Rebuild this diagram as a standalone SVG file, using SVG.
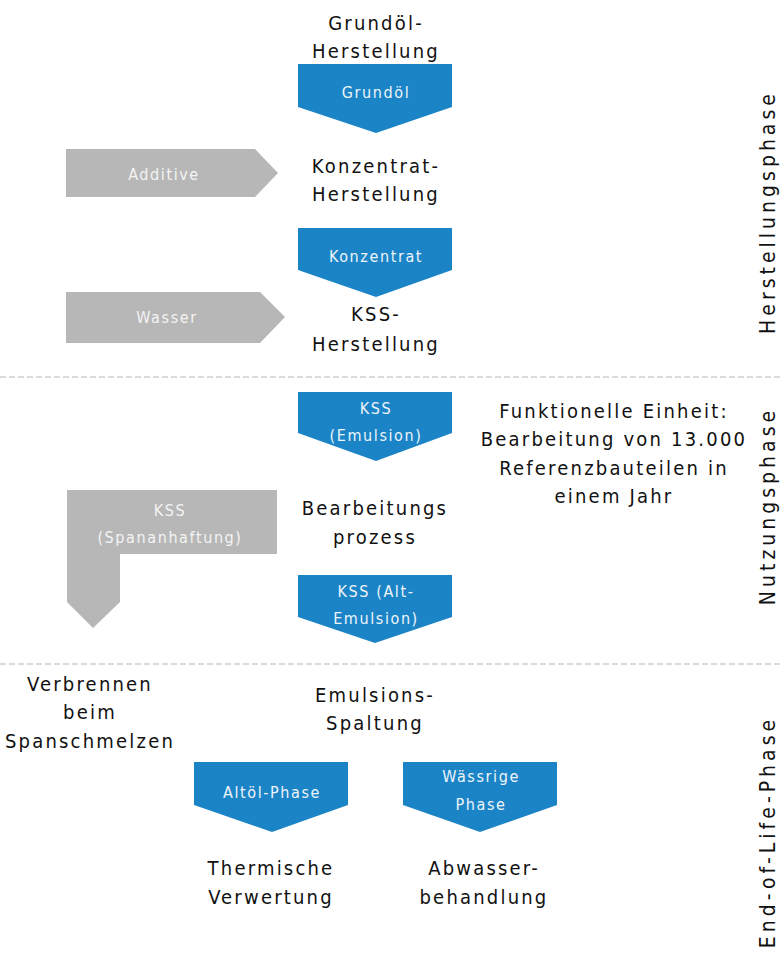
<svg xmlns="http://www.w3.org/2000/svg" width="783" height="960" viewBox="0 0 783 960">
  <style>
    text { font-family: "DejaVu Sans Condensed", "Liberation Sans", sans-serif; text-anchor: middle; }
    .lbl { font-size: 20px; letter-spacing: 2.2px; fill: #111; }
    .box { font-size: 16px; letter-spacing: 1.6px; fill: #eef4fa; }
    .gbox { font-size: 16px; letter-spacing: 1.6px; fill: #f4f4f4; }
    .phase { font-size: 21px; letter-spacing: 4px; fill: #111; }
    .blue { fill: #1b84c6; }
    .gray { fill: #b7b7b7; }
    .sep { stroke: #cfcfcf; stroke-width: 1.5; stroke-dasharray: 6 3; fill: none; }
  </style>

  <!-- phase separators -->
  <g id="separators">
    <line class="sep" x1="0" y1="377" x2="783" y2="377"/>
    <line class="sep" x1="0" y1="664" x2="783" y2="664"/>
  </g>

  <!-- phase labels -->
  <g id="phases">
    <text class="phase" transform="translate(775,212) rotate(-90)">Herstellungsphase</text>
    <text class="phase" transform="translate(775,506) rotate(-90)">Nutzungsphase</text>
    <text class="phase" transform="translate(775,832) rotate(-90)">End-of-Life-Phase</text>
  </g>

  <!-- process steps -->
  <g id="grundoel-herstellung">
    <text class="lbl" x="376" y="30">Grundöl-</text>
    <text class="lbl" x="376" y="58">Herstellung</text>
  </g>
  <g id="konzentrat-herstellung">
    <text class="lbl" x="376" y="173">Konzentrat-</text>
    <text class="lbl" x="376" y="201">Herstellung</text>
  </g>
  <g id="kss-herstellung">
    <text class="lbl" x="376" y="321">KSS-</text>
    <text class="lbl" x="376" y="351">Herstellung</text>
  </g>
  <g id="bearbeitungsprozess">
    <text class="lbl" x="375" y="515">Bearbeitungs</text>
    <text class="lbl" x="375" y="544">prozess</text>
  </g>
  <g id="funktionelle-einheit">
    <text class="lbl" x="614" y="418">Funktionelle Einheit:</text>
    <text class="lbl" x="614" y="446">Bearbeitung von 13.000</text>
    <text class="lbl" x="614" y="475">Referenzbauteilen in</text>
    <text class="lbl" x="614" y="503">einem Jahr</text>
  </g>
  <g id="verbrennen">
    <text class="lbl" x="90" y="691">Verbrennen</text>
    <text class="lbl" x="90" y="719">beim</text>
    <text class="lbl" x="90" y="748">Spanschmelzen</text>
  </g>
  <g id="emulsionsspaltung">
    <text class="lbl" x="375" y="702">Emulsions-</text>
    <text class="lbl" x="375" y="730">Spaltung</text>
  </g>
  <g id="thermische-verwertung">
    <text class="lbl" x="271" y="875">Thermische</text>
    <text class="lbl" x="271" y="904">Verwertung</text>
  </g>
  <g id="abwasserbehandlung">
    <text class="lbl" x="484" y="875">Abwasser-</text>
    <text class="lbl" x="484" y="904">behandlung</text>
  </g>

  <!-- material flows (connectors) -->
  <g id="flows">
    <g id="flow-grundoel">
      <polygon class="blue" points="298,64 452,64 452,107 376,133 298,107"/>
      <text class="box" x="376" y="98">Grundöl</text>
    </g>
    <g id="flow-konzentrat">
      <polygon class="blue" points="298,228 452,228 452,270 376,297 298,270"/>
      <text class="box" x="376" y="262">Konzentrat</text>
    </g>
    <g id="flow-kss-emulsion">
      <polygon class="blue" points="298,392 452,392 452,433 376,461 298,433"/>
      <text class="box" x="376" y="414">KSS</text>
      <text class="box" x="376" y="441">(Emulsion)</text>
    </g>
    <g id="flow-kss-altemulsion">
      <polygon class="blue" points="298,575 452,575 452,617 375,643 298,617"/>
      <text class="box" x="376" y="597">KSS (Alt-</text>
      <text class="box" x="376" y="624">Emulsion)</text>
    </g>
    <g id="flow-altoel">
      <polygon class="blue" points="194,762 348,762 348,805 272,832 194,805"/>
      <text class="box" x="272" y="798">Altöl-Phase</text>
    </g>
    <g id="flow-waessrig">
      <polygon class="blue" points="403,762 557,762 557,805 480,832 403,805"/>
      <text class="box" x="481" y="782">Wässrige</text>
      <text class="box" x="481" y="810">Phase</text>
    </g>
    <g id="flow-additive">
      <polygon class="gray" points="66,149 255,149 278,173 255,197 66,197"/>
      <text class="gbox" x="164" y="180">Additive</text>
    </g>
    <g id="flow-wasser">
      <polygon class="gray" points="66,292 260,292 285,317 260,343 66,343"/>
      <text class="gbox" x="167" y="323">Wasser</text>
    </g>
    <g id="flow-spananhaftung">
      <polygon class="gray" points="67,490 277,490 277,554 120,554 120,602 93,628 67,602"/>
      <text class="gbox" x="170" y="516">KSS</text>
      <text class="gbox" x="170" y="543">(Spananhaftung)</text>
    </g>
  </g>
</svg>
